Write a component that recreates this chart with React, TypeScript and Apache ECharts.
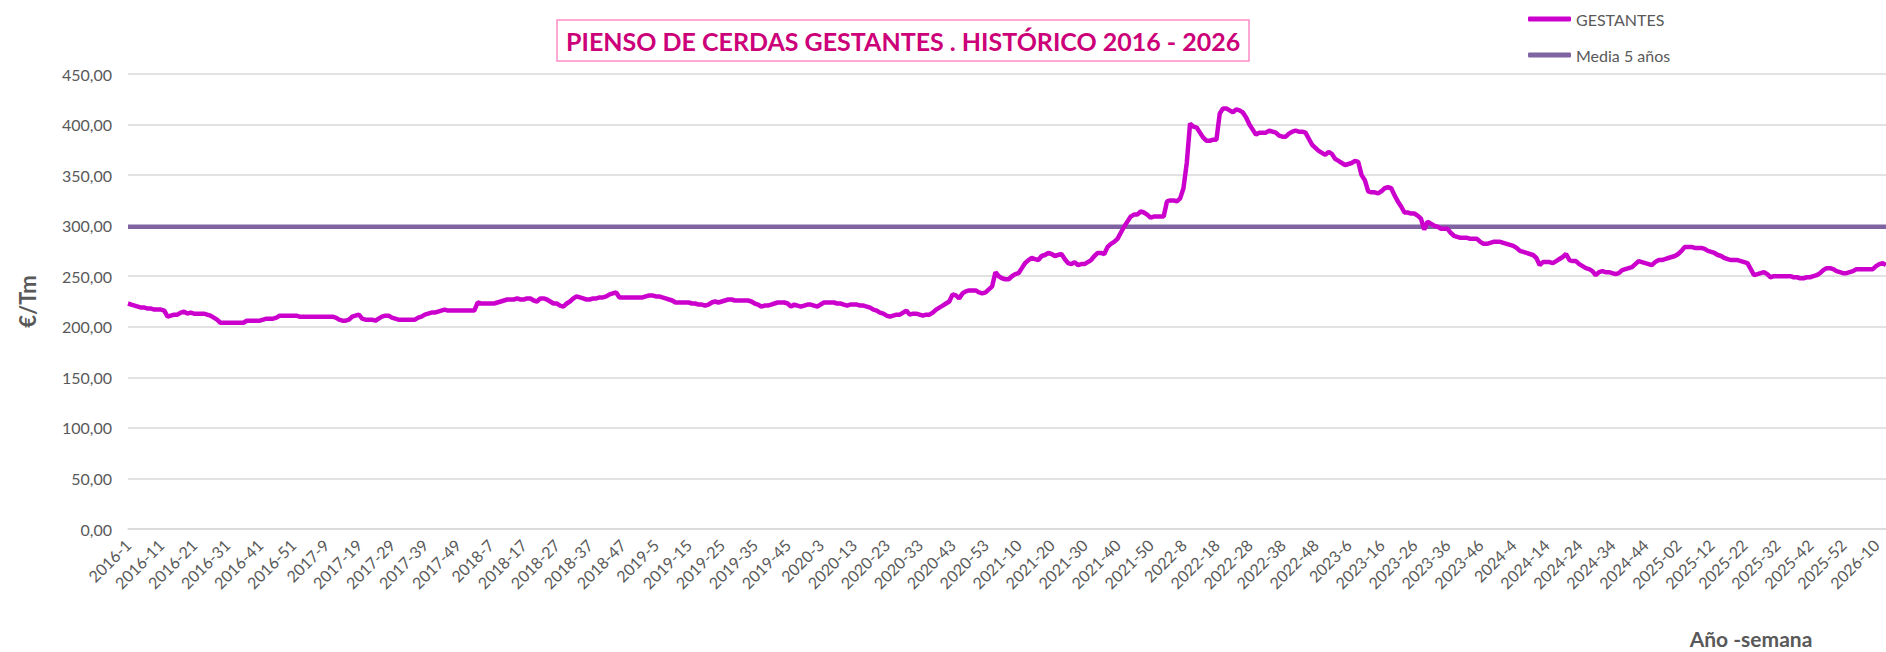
import React, { useEffect, useRef } from "react";
import * as echarts from "echarts";

// ---- Data (€/Tm, weekly) ----
const YEARS = [2016, 2017, 2018, 2019, 2020, 2021, 2022, 2023, 2024, 2025, 2026];

const W2016 = [223,222,221,220,219,219,218,218,217,217, 217,216,210,211,212,212,214,215,213,214, 213,213,213,213,212,211,209,207,204,204, 204,204,204,204,204,204,206,206,206,206, 206,207,208,208,208,209,211,211,211,211, 211,211];
const W2017 = [210,210,210,210,210,210,210,210,210,210, 210,209,207,206,206,207,210,211,212,208, 207,207,207,206,208,210,211,211,209,208, 207,207,207,207,207,207,209,210,212,213, 214,214,215,216,217,216,216,216,216,216, 216,216];
const W2018 = [216,216,224,223,223,223,223,223,224,225, 226,227,227,227,228,227,227,228,228,226, 225,228,228,227,225,223,223,221,220,223, 225,228,230,229,228,227,227,228,228,229, 229,230,232,233,234,229,229,229,229,229, 229,229];
const W2019 = [229,230,231,231,230,230,229,228,227,226, 224,224,224,224,224,223,223,222,222,221, 222,224,225,224,225,226,227,227,226,226, 226,226,226,225,223,222,220,221,221,222, 223,224,224,224,223,220,222,221,220,221, 222,222];
const W2020 = [221,220,222,224,224,224,224,223,223,222, 221,222,222,222,221,221,220,219,217,216, 214,213,211,210,211,212,212,214,216,212, 213,213,212,211,212,212,214,217,219,221, 223,225,232,231,228,233,235,236,236,236, 234,233,234];
const W2021 = [237,240,254,250,248,247,247,250,252,253, 258,263,266,268,267,266,270,271,273,272, 270,271,272,267,263,262,264,261,262,262, 264,266,270,273,273,272,279,282,284,287, 293,299,304,309,311,311,314,313,311,308, 309,309];
const W2022 = [309,309,324,325,325,324,327,337,362,401, 398,397,392,387,384,384,385,385,411,416, 416,414,412,415,414,412,407,400,395,390, 392,392,392,394,393,392,389,388,388,391, 393,394,393,393,392,386,380,377,374,372, 370,373];
const W2023 = [371,366,364,362,360,361,362,364,363,350, 345,334,333,333,332,334,337,338,337,330, 324,319,313,313,312,312,310,307,296,304, 302,300,299,297,297,297,293,290,289,288, 288,288,287,287,287,284,282,282,283,284, 284,284];
const W2024 = [283,282,281,280,278,275,274,273,272,271, 268,261,264,264,264,263,265,267,269,272, 266,265,265,262,260,258,257,255,251,254, 255,254,254,253,252,253,256,257,258,259, 262,265,264,263,262,261,264,266,266,267, 268,269];
const W2025 = [270,272,275,279,279,279,278,278,278,277, 275,274,273,271,270,268,267,266,266,266, 265,264,263,257,251,252,253,254,252,249, 250,250,250,250,250,250,249,249,248,248, 249,249,250,251,253,256,258,258,257,255, 254,253];
const W2026 = [253,254,255,257,257,257,257,257,257,260, 262,263,261];

const WEEKLY_BY_YEAR = [W2016, W2017, W2018, W2019, W2020, W2021, W2022, W2023, W2024, W2025, W2026];

const MEDIA_5_ANOS = 299;

const Y_MIN = 0;
const Y_MAX = 450;
const Y_STEP = 50;
const LABEL_EVERY = 10;

const TITLE = "PIENSO DE CERDAS GESTANTES . HISTÓRICO 2016 - 2026";
const SERIES_NAMES = ["GESTANTES", "Media 5 años"];
const Y_NAME = "€/Tm";
const X_NAME = "Año -semana";

// categories "year-week" and the flat value list
const categories: string[] = [];
const gestantes: number[] = [];
YEARS.forEach((year, k) => {
  WEEKLY_BY_YEAR[k].forEach((v, w) => {
    const wk = year === 2025 ? String(w + 1).padStart(2, "0") : String(w + 1);
    categories.push(`${year}-${wk}`);
    gestantes.push(v);
  });
});
const media = categories.map(() => MEDIA_5_ANOS);

const FONT = "Lato";
const GREY = "#595959";

export default function App() {
  const ref = useRef<HTMLDivElement>(null);

  useEffect(() => {
    if (!ref.current) return;
    const chart = echarts.init(ref.current, undefined, { renderer: "svg" });
    chart.setOption({
      animation: false,
      backgroundColor: "#ffffff",
      textStyle: { fontFamily: FONT },
      title: {
        text: TITLE,
        left: 557,
        top: 20,
        padding: [8, 9, 7, 9],
        borderColor: "#FF8CC6",
        borderWidth: 1.5,
        textStyle: { color: "#CC0078", fontSize: 25, lineHeight: 26, fontWeight: "bold", fontFamily: FONT },
      },
      legend: {
        orient: "vertical",
        left: 1528,
        top: 9,
        padding: 0,
        itemWidth: 43,
        itemHeight: 5,
        itemGap: 16,
        icon: "roundRect",
        textStyle: { color: GREY, fontSize: 16, lineHeight: 20, fontFamily: FONT },
        data: SERIES_NAMES,
      },
      grid: { left: 128, right: 0, top: 74, bottom: 123, containLabel: false },
      xAxis: {
        type: "category",
        data: categories,
        boundaryGap: false,
        axisLine: { show: true, lineStyle: { color: "#D9D9D9", width: 1.5 } },
        axisTick: { show: false },
        axisLabel: {
          interval: LABEL_EVERY - 1,
          rotate: 45,
          color: GREY,
          fontSize: 16,
          margin: 13,
          fontFamily: FONT,
        },
        splitLine: { show: false },
      },
      yAxis: {
        type: "value",
        min: Y_MIN,
        max: Y_MAX,
        interval: Y_STEP,
        name: Y_NAME,
        nameLocation: "middle",
        nameGap: 90,
        nameTextStyle: { fontSize: 22, fontWeight: "bold", color: GREY, fontFamily: FONT },
        axisLine: { show: false },
        axisTick: { show: false },
        axisLabel: {
          formatter: (v: number) => v.toFixed(2).replace(".", ","),
          color: GREY,
          fontSize: 16,
          margin: 16,
          fontFamily: FONT,
        },
        splitLine: { lineStyle: { color: "#D9D9D9", width: 1.5 } },
      },
      graphic: [
        {
          type: "text",
          x: 1751,
          y: 638,
          style: {
            text: X_NAME,
            font: `bold 21px ${FONT}`,
            fill: GREY,
            textAlign: "center",
            textVerticalAlign: "middle",
          },
        },
      ],
      series: [
        {
          name: SERIES_NAMES[1],
          type: "line",
          data: media,
          symbol: "none",
          showSymbol: false,
          lineStyle: { color: "#8064A2", width: 4.5 },
          itemStyle: { color: "#8064A2" },
          z: 2,
        },
        {
          name: SERIES_NAMES[0],
          type: "line",
          data: gestantes,
          symbol: "none",
          showSymbol: false,
          lineStyle: { color: "#CC00CC", width: 4.5 },
          itemStyle: { color: "#CC00CC" },
          z: 3,
        },
      ],
    });
    return () => chart.dispose();
  }, []);

  return (
    <div
      ref={ref}
      style={{ position: "absolute", left: 0, top: 0, width: 1886, height: 652 }}
    />
  );
}
